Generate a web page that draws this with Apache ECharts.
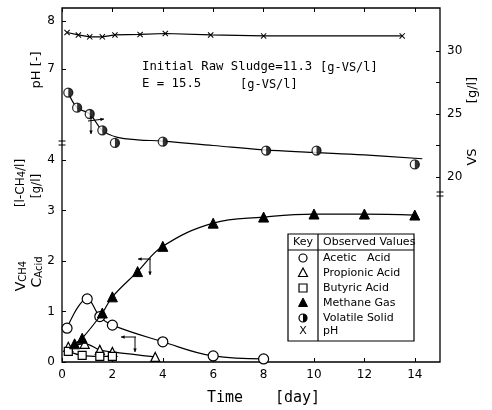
<!DOCTYPE html>
<html><head><meta charset="utf-8">
<script src="https://cdn.jsdelivr.net/npm/echarts@6/dist/echarts.min.js"></script>
<style>html,body{margin:0;padding:0;background:#fff}#c{width:492px;height:410px}</style>
</head><body><div id="c"></div>
<script>
// ---- tick labels ----
const xTicks = [0, 2, 4, 6, 8, 10, 12, 14];
const acidTicks = [0, 1, 2, 3, 4];
const phTicks = [7, 8];
const vsTicks = [20, 25, 30];
const vsMinorTicks = [20, 22.5, 25, 27.5, 30];

// ---- observed values ----
const phDays = [0.2, 0.65, 1.1, 1.6, 2.1, 3.1, 4.1, 5.9, 8.0, 13.5];
const phValues = [7.76, 7.71, 7.67, 7.67, 7.71, 7.72, 7.74, 7.71, 7.69, 7.69];

const vsDays = [0.25, 0.6, 1.1, 1.6, 2.1, 4.0, 8.1, 10.1, 14.0];
const vsValues = [26.7, 25.5, 25.0, 23.7, 22.7, 22.8, 22.1, 22.1, 21.0];
// drawn VS curve
const vsCurveDays = [0.25, 0.6, 1.1, 1.6, 2.2, 3.0, 4.0, 6.0, 8.0, 10.0, 12.0, 14.3];
const vsCurveValues = [26.7, 25.5, 25.0, 23.7, 23.15, 22.95, 22.85, 22.5, 22.15, 21.95, 21.75, 21.45];

const aceticDays = [0.2, 1.0, 1.5, 2.0, 4.0, 6.0, 8.0];
const aceticValues = [0.67, 1.25, 0.9, 0.73, 0.4, 0.12, 0.06];

const propionicDays = [0.25, 0.9, 1.5, 2.0, 3.7];
const propionicValues = [0.3, 0.36, 0.24, 0.2, 0.1];

const butyricDays = [0.25, 0.8, 1.5, 2.0];
const butyricValues = [0.21, 0.13, 0.11, 0.11];

const methaneDays = [0.5, 0.8, 1.6, 2, 3, 4, 6, 8, 10, 12, 14];
const methaneValues = [0.36, 0.47, 0.97, 1.29, 1.79, 2.29, 2.75, 2.87, 2.93, 2.93, 2.91];

const legendRows = ['Acetic   Acid', 'Propionic Acid', 'Butyric Acid', 'Methane Gas', 'Volatile Solid', 'pH'];

const FF = 'DejaVu Sans';
const FM = 'DejaVu Sans Mono';
const pairs = (xs, ys) => xs.map((x, i) => [x, ys[i]]);

const chart = echarts.init(document.getElementById('c'), null, {renderer: 'canvas'});

const xPath = 'path://M0,1.2 L1.2,0 L10,8.8 L8.8,10 Z M8.8,0 L10,1.2 L1.2,10 L0,8.8 Z';
const halfPath = 'path://M0,-10 A10,10 0 0 1 0,10 Z';

function axisCommon(ticks, labels, pos) {
  return {
    type: 'value', position: pos,
    axisLine: {show: false},
    axisTick: {show: true, inside: true, length: 4, customValues: ticks, lineStyle: {color: '#000', width: 1}},
    axisLabel: {show: !!labels, customValues: labels || ticks, color: '#000', fontSize: 12, fontFamily: FF, margin: 7},
    splitLine: {show: false}
  };
}

const lineStyle = {color: '#000', width: 1.2};

const option = {
  animation: false,
  backgroundColor: '#fff',
  grid: {left: 62, right: 52, top: 8, bottom: 48, show: true, borderColor: '#000', borderWidth: 1.3, backgroundColor: 'transparent'},
  xAxis: [
    Object.assign(axisCommon(xTicks, xTicks, 'bottom'), {min: 0, max: 15}),
    Object.assign(axisCommon(xTicks, null, 'top'), {min: 0, max: 15})
  ],
  yAxis: [
    Object.assign(axisCommon(acidTicks, acidTicks, 'left'), {min: 0, max: 7.01}),
    Object.assign(axisCommon(phTicks, phTicks, 'left'), {min: 0.896, max: 8.271}),
    Object.assign(axisCommon(vsMinorTicks, vsTicks, 'right'), {min: 5.32, max: 33.41})
  ],
  series: [
    {type: 'line', name: 'pH', yAxisIndex: 1, data: pairs(phDays, phValues), symbol: xPath, symbolSize: 6,
      itemStyle: {color: '#000'}, lineStyle: lineStyle, z: 3},
    {type: 'line', name: 'VS curve', yAxisIndex: 2, data: pairs(vsCurveDays, vsCurveValues), smooth: 0.4, symbol: 'none',
      lineStyle: lineStyle, z: 2},
    {type: 'scatter', name: 'VS', yAxisIndex: 2, data: pairs(vsDays, vsValues), symbol: 'circle', symbolSize: 9,
      itemStyle: {color: '#fff', borderColor: '#000', borderWidth: 1.3}, z: 3},
    {type: 'scatter', name: 'VS-half', yAxisIndex: 2, data: pairs(vsDays, vsValues), symbol: halfPath, symbolSize: [4.5, 9],
      symbolOffset: [2.25, 0], itemStyle: {color: '#000'}, z: 4},
    {type: 'line', name: 'Acetic', yAxisIndex: 0, data: pairs(aceticDays, aceticValues), smooth: 0.4, symbol: 'circle', symbolSize: 10,
      itemStyle: {color: '#fff', borderColor: '#000', borderWidth: 1.2}, lineStyle: lineStyle, z: 3},
    {type: 'line', name: 'Propionic', yAxisIndex: 0, data: pairs(propionicDays, propionicValues), smooth: 0.4, symbol: 'triangle', symbolSize: 9,
      itemStyle: {color: '#fff', borderColor: '#000', borderWidth: 1.2}, lineStyle: lineStyle, z: 3},
    {type: 'line', name: 'Butyric', yAxisIndex: 0, data: pairs(butyricDays, butyricValues), smooth: 0.4, symbol: 'rect', symbolSize: 8,
      itemStyle: {color: '#fff', borderColor: '#000', borderWidth: 1.2}, lineStyle: lineStyle, z: 3},
    {type: 'line', name: 'Methane', yAxisIndex: 0, data: pairs(methaneDays, methaneValues), smooth: 0.4, symbol: 'triangle', symbolSize: 10,
      itemStyle: {color: '#000', borderColor: '#000', borderWidth: 1}, lineStyle: lineStyle, z: 4}
  ]
};
chart.setOption(option);

// ---- decorations: axis names, annotations, legend table, arrows, breaks ----
const g = [];
function txt(x, y, s, size, opts, fam) {
  g.push(Object.assign({type: 'text', x: x, y: y, style: Object.assign({text: s, fill: '#000', font: size + 'px "' + (fam || FF) + '"', textAlign: 'left', textVerticalAlign: 'middle'}, (opts && opts.style) || {})}, (opts && opts.el) || {}));
}
function line(x1, y1, x2, y2, w) {
  g.push({type: 'line', shape: {x1, y1, x2, y2}, style: {stroke: '#000', lineWidth: w || 1}, z: 10});
}
function arrow(x1, y1, x2, y2) {
  line(x1, y1, x2, y2, 1);
  const a = Math.atan2(y2 - y1, x2 - x1), L = 4;
  g.push({type: 'polygon', shape: {points: [[x2, y2], [x2 - L * Math.cos(a - 0.45), y2 - L * Math.sin(a - 0.45)], [x2 - L * Math.cos(a + 0.45), y2 - L * Math.sin(a + 0.45)]]}, style: {fill: '#000'}, z: 10});
}

// rotated axis titles
const rot = Math.PI / 2;
const subRich = {v: {fontSize: 14, fontFamily: FF}, s: {fontSize: 10, fontFamily: FF, verticalAlign: 'bottom'}, b: {fontSize: 12, fontFamily: FF}};
txt(37, 70, 'pH [-]', 13, {style: {textAlign: 'center'}, el: {rotation: rot}});
txt(21, 276, '{v|V}{s|CH4}', 13, {style: {textAlign: 'center', rich: subRich}, el: {rotation: rot}});
txt(21, 183, '{b|[l-CH}{s|4}{b|/l]}', 13, {style: {textAlign: 'center', rich: subRich}, el: {rotation: rot}});
txt(37, 272, '{v|C}{s|Acid}', 13, {style: {textAlign: 'center', rich: subRich}, el: {rotation: rot}});
txt(37, 186, '{b|[g/l]}', 13, {style: {textAlign: 'center', rich: subRich}, el: {rotation: rot}});
txt(473, 157, 'VS', 13, {style: {textAlign: 'center'}, el: {rotation: rot}});
txt(473, 90, '[g/l]', 13, {style: {textAlign: 'center'}, el: {rotation: rot}});

// x axis title
txt(207, 398, 'Time', 15, null, FM);
txt(275, 398, '[day]', 15, null, FM);

// annotation text
txt(142, 67, 'Initial Raw Sludge=11.3', 12.3, null, FM);
txt(320, 68, '[g-VS/l]', 12, null, FM);
txt(142, 84, 'E = 15.5', 12.3, null, FM);
txt(240, 85, '[g-VS/l]', 12, null, FM);

// axis breaks
[[62, 143], [440, 194]].forEach(([x, y]) => {
  line(x - 3.5, y - 2, x + 3.5, y - 2, 1);
  line(x - 3.5, y + 2, x + 3.5, y + 2, 1);
});

// arrows
arrow(88, 121, 104, 119); arrow(91, 116, 91, 134);
arrow(151, 259, 138, 259); arrow(150, 259, 150, 275);
arrow(136, 337, 121, 337); arrow(135, 337, 135, 352);

// legend table
const L0 = 288, R0 = 414, T0 = 234, B0 = 341, HB = 250, CD = 318;
g.push({type: 'rect', shape: {x: L0, y: T0, width: R0 - L0, height: B0 - T0}, style: {fill: '#fff', stroke: '#000', lineWidth: 1.2}, z: 9});
line(L0, HB, R0, HB, 1.2);
line(CD, T0, CD, B0, 1.2);
txt(303, 242, 'Key', 11, {style: {textAlign: 'center'}, el: {z: 11}});
txt(323, 242, 'Observed Values', 11, {el: {z: 11}});
const rowY = [258, 273, 288, 303, 318, 331];
legendRows.forEach((s, i) => txt(323, rowY[i], s, 11, {el: {z: 11}}));
const kx = 303;
g.push({type: 'circle', shape: {cx: kx, cy: rowY[0], r: 4}, style: {fill: '#fff', stroke: '#000', lineWidth: 1.2}, z: 11});
g.push({type: 'polygon', shape: {points: [[kx, rowY[1] - 5], [kx - 4.5, rowY[1] + 3.5], [kx + 4.5, rowY[1] + 3.5]]}, style: {fill: '#fff', stroke: '#000', lineWidth: 1.2}, z: 11});
g.push({type: 'rect', shape: {x: kx - 4, y: rowY[2] - 4, width: 8, height: 8}, style: {fill: '#fff', stroke: '#000', lineWidth: 1.2}, z: 11});
g.push({type: 'polygon', shape: {points: [[kx, rowY[3] - 5], [kx - 4.5, rowY[3] + 3.5], [kx + 4.5, rowY[3] + 3.5]]}, style: {fill: '#000', stroke: '#000', lineWidth: 1}, z: 11});
g.push({type: 'circle', shape: {cx: kx, cy: rowY[4], r: 4}, style: {fill: '#fff', stroke: '#000', lineWidth: 1.2}, z: 11});
g.push({type: 'sector', shape: {cx: kx, cy: rowY[4], r: 4, r0: 0, startAngle: -Math.PI / 2, endAngle: Math.PI / 2}, style: {fill: '#000'}, z: 12});
txt(kx, rowY[5], 'X', 11, {style: {textAlign: 'center'}, el: {z: 11}});

chart.setOption({graphic: {elements: g}});
</script>
</body></html>
